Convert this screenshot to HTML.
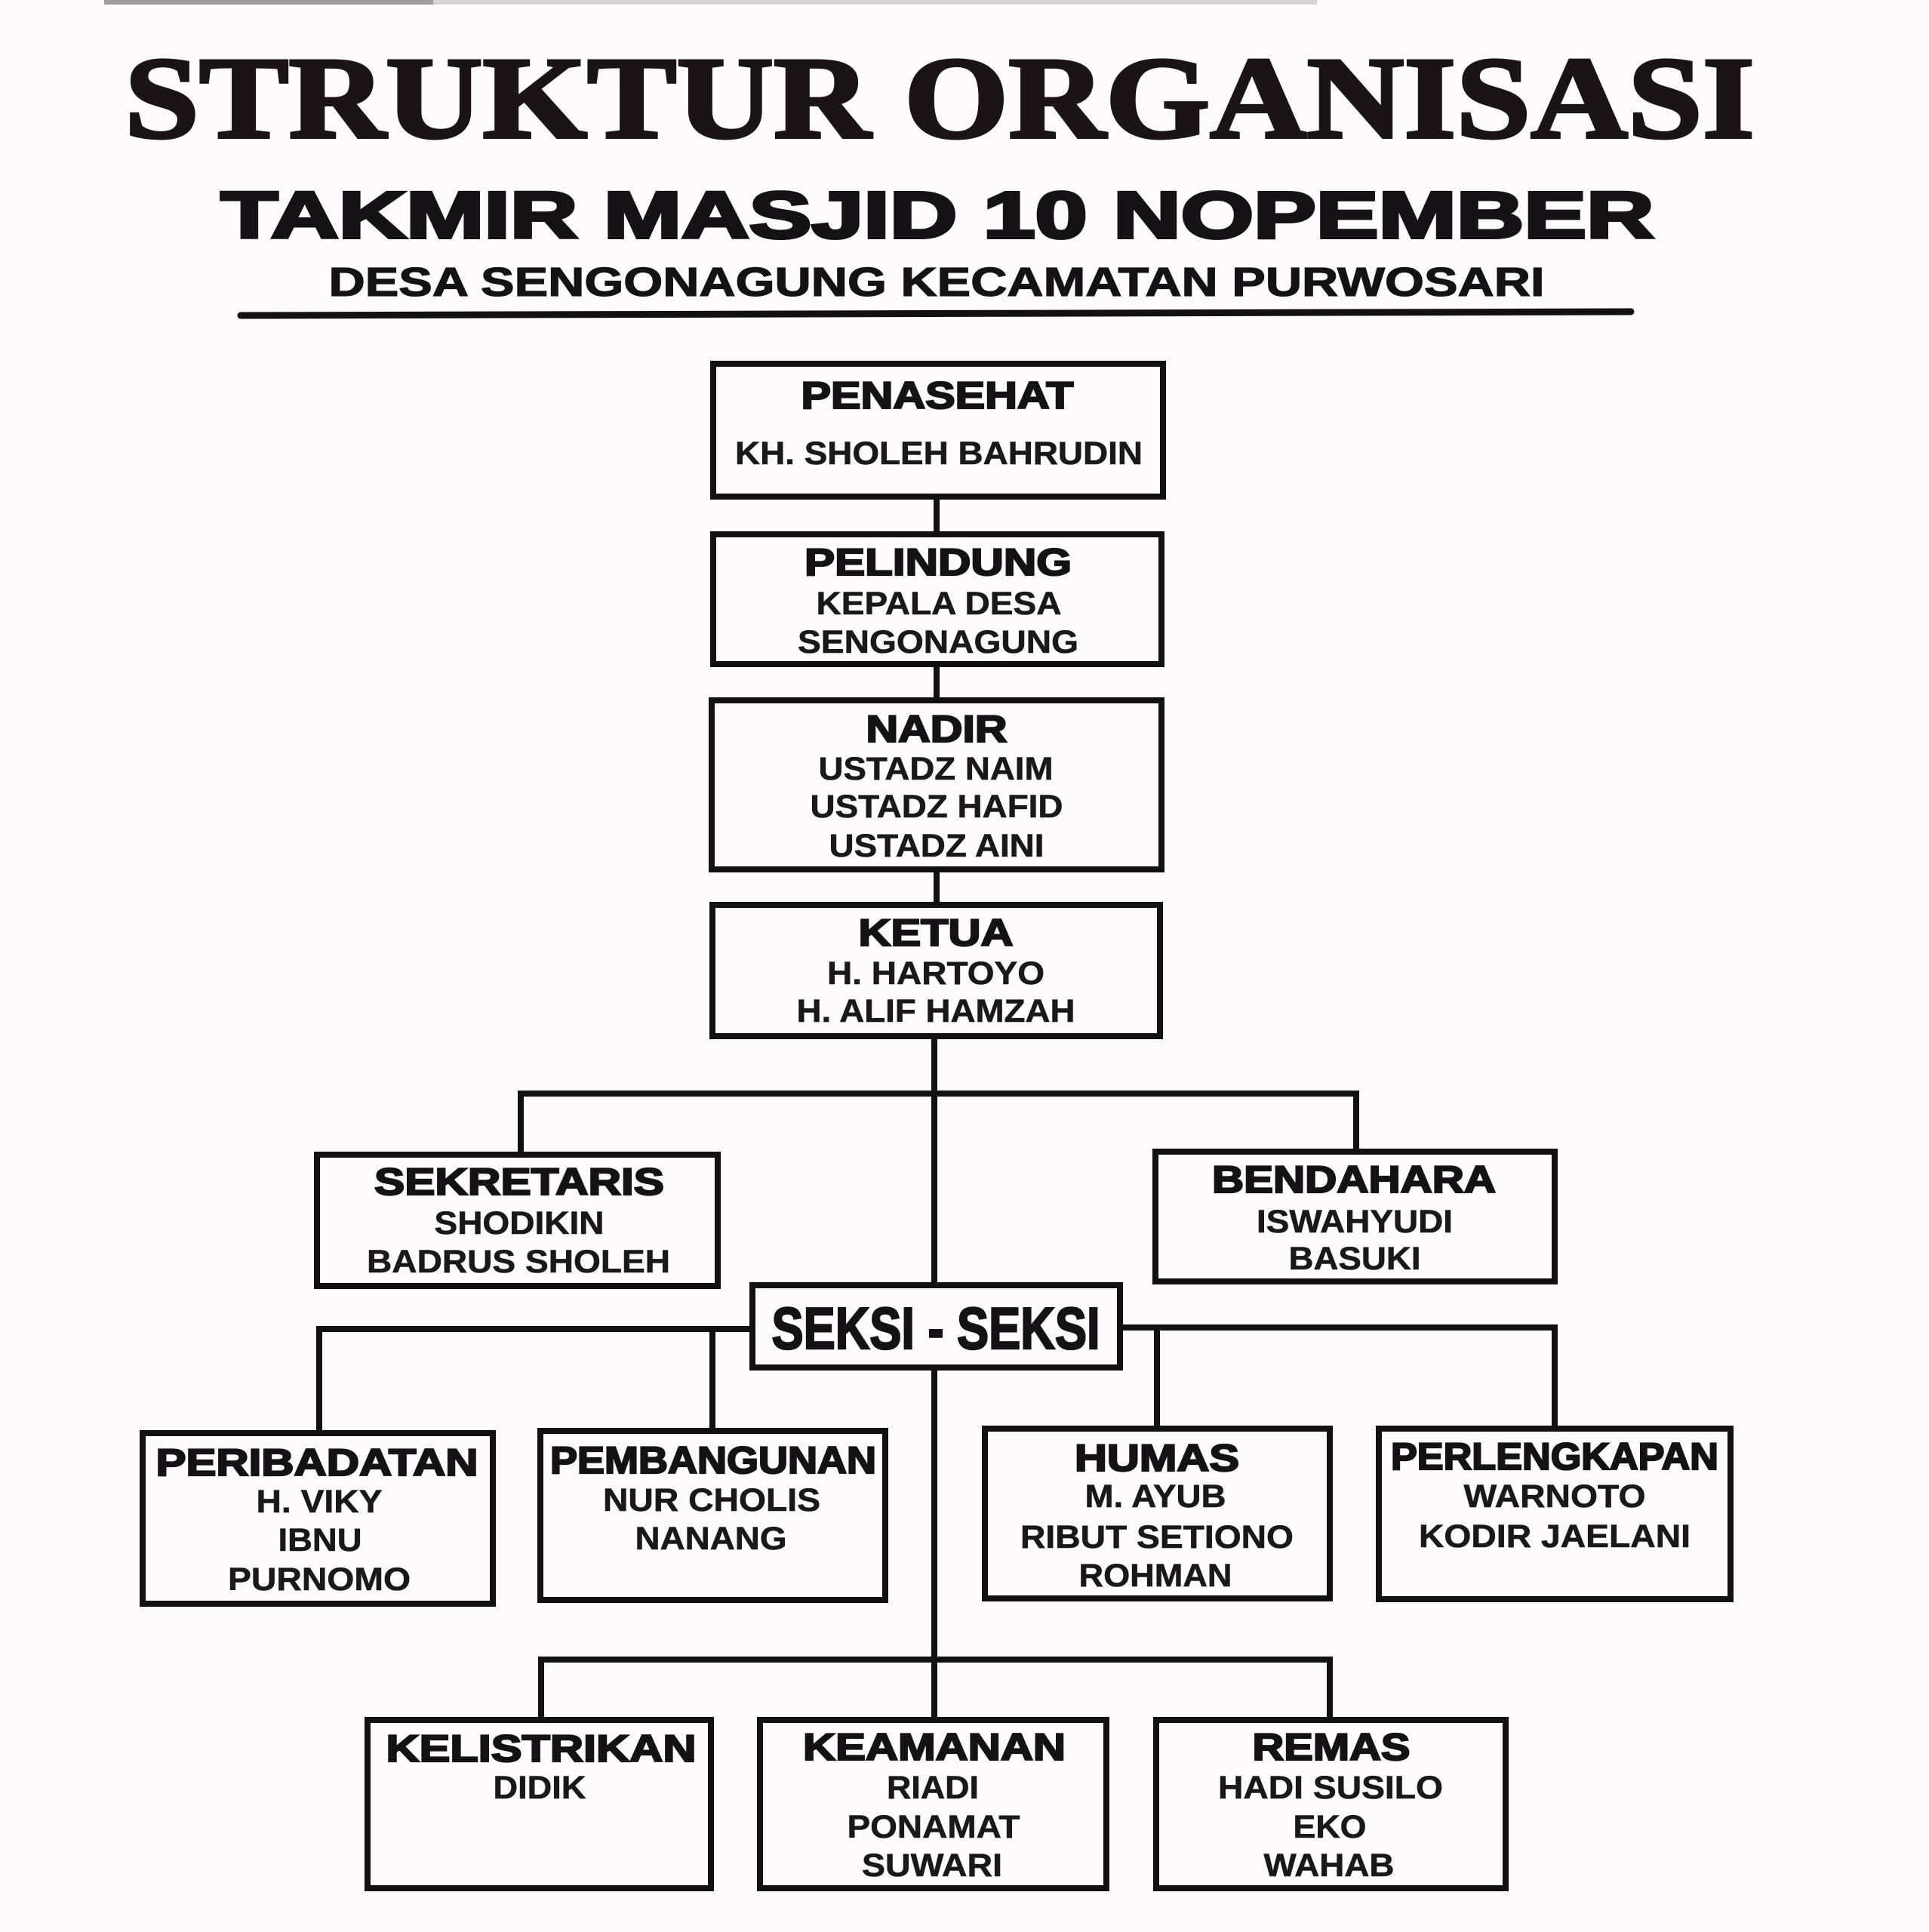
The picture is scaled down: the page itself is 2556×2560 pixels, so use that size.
<!DOCTYPE html>
<html>
<head>
<meta charset="utf-8">
<style>
  html, body { margin:0; padding:0; background:#fdfbfc; }
  body { width:2556px; height:2560px; overflow:hidden; }
  svg { display:block; }
  .t { font-family:"Liberation Sans", sans-serif; font-weight:bold; fill:#141214; stroke:#141214; stroke-width:2.2; text-anchor:middle; font-size:50px; }
  .n { font-family:"Liberation Sans", sans-serif; font-weight:bold; fill:#1a181a; stroke:#1a181a; stroke-width:0.6; text-anchor:middle; font-size:43px; }
  .box { fill:#fdfbfc; stroke:#121012; stroke-width:8; }
  .ln { stroke:#121012; stroke-width:8; fill:none; stroke-linecap:square; }
</style>
</head>
<body>
<svg width="2556" height="2560" viewBox="0 0 2556 2560" xmlns="http://www.w3.org/2000/svg">
  <rect x="0" y="0" width="2556" height="2560" fill="#fdfbfc"/>
  <!-- top scan strip -->
  <rect x="138" y="0" width="1607" height="6" fill="#d6d3d5"/>
  <rect x="138" y="0" width="436" height="6" fill="#a09d9f"/>

  <!-- Header -->
  <text x="1245" y="182" font-family="Liberation Serif, serif" font-weight="bold" font-size="155" fill="#1a1416" stroke="#1a1416" stroke-width="4" text-anchor="middle" textLength="2160" lengthAdjust="spacingAndGlyphs">STRUKTUR ORGANISASI</text>
  <text x="1242" y="315" font-family="Liberation Sans, sans-serif" font-weight="bold" font-size="87" fill="#141214" stroke="#141214" stroke-width="4" text-anchor="middle" textLength="1899" lengthAdjust="spacingAndGlyphs">TAKMIR MASJID 10 NOPEMBER</text>
  <text x="1241" y="392" font-family="Liberation Sans, sans-serif" font-weight="bold" font-size="54" fill="#141214" stroke="#141214" stroke-width="1.2" text-anchor="middle" textLength="1611" lengthAdjust="spacingAndGlyphs">DESA SENGONAGUNG KECAMATAN PURWOSARI</text>
  <path d="M319 418 L2161 413" stroke="#121012" stroke-width="9" stroke-linecap="round" fill="none"/>

  <!-- Connectors -->
  <line class="ln" x1="1241" y1="662" x2="1241" y2="1195"/>
  <line class="ln" x1="1238" y1="1377" x2="1238" y2="2275"/>
  <line class="ln" x1="690" y1="1449" x2="1797" y2="1449"/>
  <line class="ln" x1="690" y1="1449" x2="690" y2="1526"/>
  <line class="ln" x1="1797" y1="1449" x2="1797" y2="1522"/>

  <line class="ln" x1="423" y1="1761" x2="993" y2="1761"/>
  <line class="ln" x1="423" y1="1761" x2="423" y2="1895"/>
  <line class="ln" x1="944" y1="1761" x2="944" y2="1892"/>
  <line class="ln" x1="1488" y1="1759" x2="2060" y2="1759"/>
  <line class="ln" x1="1533" y1="1759" x2="1533" y2="1889"/>
  <line class="ln" x1="2060" y1="1759" x2="2060" y2="1889"/>

  <line class="ln" x1="717" y1="2199" x2="1762" y2="2199"/>
  <line class="ln" x1="717" y1="2199" x2="717" y2="2275"/>
  <line class="ln" x1="1762" y1="2199" x2="1762" y2="2275"/>

  <!-- Boxes (outer edges, border inset by 4) -->
  <rect class="box" x="945" y="482" width="596" height="176"/>
  <rect class="box" x="945" y="708" width="594" height="172"/>
  <rect class="box" x="943" y="928" width="596" height="224"/>
  <rect class="box" x="944" y="1199" width="593" height="174"/>
  <rect class="box" x="420" y="1530" width="531" height="174"/>
  <rect class="box" x="1531" y="1526" width="529" height="172"/>
  <rect class="box" x="997" y="1703" width="487" height="109"/>
  <rect class="box" x="189" y="1899" width="464" height="226"/>
  <rect class="box" x="716" y="1896" width="457" height="224"/>
  <rect class="box" x="1305" y="1893" width="457" height="225"/>
  <rect class="box" x="1827" y="1893" width="466" height="226"/>
  <rect class="box" x="487" y="2279" width="455" height="223"/>
  <rect class="box" x="1007" y="2279" width="459" height="223"/>
  <rect class="box" x="1532" y="2279" width="463" height="223"/>

  <!-- PENASEHAT -->
  <text class="t" x="1242" y="541" textLength="361" lengthAdjust="spacingAndGlyphs">PENASEHAT</text>
  <text class="n" x="1244" y="615" textLength="540" lengthAdjust="spacingAndGlyphs">KH. SHOLEH BAHRUDIN</text>

  <!-- PELINDUNG -->
  <text class="t" x="1243" y="762" textLength="354" lengthAdjust="spacingAndGlyphs">PELINDUNG</text>
  <text class="n" x="1244" y="814" textLength="325" lengthAdjust="spacingAndGlyphs">KEPALA DESA</text>
  <text class="n" x="1243" y="865" textLength="372" lengthAdjust="spacingAndGlyphs">SENGONAGUNG</text>

  <!-- NADIR -->
  <text class="t" x="1241" y="983" textLength="187" lengthAdjust="spacingAndGlyphs">NADIR</text>
  <text class="n" x="1240" y="1033" textLength="311" lengthAdjust="spacingAndGlyphs">USTADZ NAIM</text>
  <text class="n" x="1241" y="1083" textLength="335" lengthAdjust="spacingAndGlyphs">USTADZ HAFID</text>
  <text class="n" x="1241" y="1135" textLength="285" lengthAdjust="spacingAndGlyphs">USTADZ AINI</text>

  <!-- KETUA -->
  <text class="t" x="1240" y="1253" textLength="205" lengthAdjust="spacingAndGlyphs">KETUA</text>
  <text class="n" x="1240" y="1304" textLength="288" lengthAdjust="spacingAndGlyphs">H. HARTOYO</text>
  <text class="n" x="1240" y="1354" textLength="369" lengthAdjust="spacingAndGlyphs">H. ALIF HAMZAH</text>

  <!-- SEKRETARIS -->
  <text class="t" x="688" y="1583" textLength="384" lengthAdjust="spacingAndGlyphs">SEKRETARIS</text>
  <text class="n" x="688" y="1635" textLength="225" lengthAdjust="spacingAndGlyphs">SHODIKIN</text>
  <text class="n" x="687" y="1686" textLength="402" lengthAdjust="spacingAndGlyphs">BADRUS SHOLEH</text>

  <!-- BENDAHARA -->
  <text class="t" x="1794" y="1580" textLength="376" lengthAdjust="spacingAndGlyphs">BENDAHARA</text>
  <text class="n" x="1795" y="1633" textLength="260" lengthAdjust="spacingAndGlyphs">ISWAHYUDI</text>
  <text class="n" x="1795" y="1682" textLength="175" lengthAdjust="spacingAndGlyphs">BASUKI</text>

  <!-- SEKSI - SEKSI -->
  <text x="1240" y="1787" font-family="Liberation Sans, sans-serif" font-weight="bold" font-size="78" fill="#141214" stroke="#141214" stroke-width="2.5" text-anchor="middle" textLength="435" lengthAdjust="spacingAndGlyphs">SEKSI - SEKSI</text>

  <!-- PERIBADATAN -->
  <text class="t" x="420" y="1955" textLength="427" lengthAdjust="spacingAndGlyphs">PERIBADATAN</text>
  <text class="n" x="423" y="2004" textLength="167" lengthAdjust="spacingAndGlyphs">H. VIKY</text>
  <text class="n" x="424" y="2055" textLength="111" lengthAdjust="spacingAndGlyphs">IBNU</text>
  <text class="n" x="423" y="2107" textLength="242" lengthAdjust="spacingAndGlyphs">PURNOMO</text>

  <!-- PEMBANGUNAN -->
  <text class="t" x="945" y="1952" textLength="432" lengthAdjust="spacingAndGlyphs">PEMBANGUNAN</text>
  <text class="n" x="943" y="2002" textLength="288" lengthAdjust="spacingAndGlyphs">NUR CHOLIS</text>
  <text class="n" x="942" y="2053" textLength="201" lengthAdjust="spacingAndGlyphs">NANANG</text>

  <!-- HUMAS -->
  <text class="t" x="1533" y="1949" textLength="218" lengthAdjust="spacingAndGlyphs">HUMAS</text>
  <text class="n" x="1531" y="1997" textLength="187" lengthAdjust="spacingAndGlyphs">M. AYUB</text>
  <text class="n" x="1533" y="2051" textLength="362" lengthAdjust="spacingAndGlyphs">RIBUT SETIONO</text>
  <text class="n" x="1531" y="2102" textLength="203" lengthAdjust="spacingAndGlyphs">ROHMAN</text>

  <!-- PERLENGKAPAN -->
  <text class="t" x="2060" y="1947" textLength="434" lengthAdjust="spacingAndGlyphs">PERLENGKAPAN</text>
  <text class="n" x="2060" y="1997" textLength="241" lengthAdjust="spacingAndGlyphs">WARNOTO</text>
  <text class="n" x="2060" y="2050" textLength="360" lengthAdjust="spacingAndGlyphs">KODIR JAELANI</text>

  <!-- KELISTRIKAN -->
  <text class="t" x="717" y="2334" textLength="411" lengthAdjust="spacingAndGlyphs">KELISTRIKAN</text>
  <text class="n" x="715" y="2383" textLength="123" lengthAdjust="spacingAndGlyphs">DIDIK</text>

  <!-- KEAMANAN -->
  <text class="t" x="1238" y="2332" textLength="348" lengthAdjust="spacingAndGlyphs">KEAMANAN</text>
  <text class="n" x="1236" y="2383" textLength="122" lengthAdjust="spacingAndGlyphs">RIADI</text>
  <text class="n" x="1237" y="2435" textLength="229" lengthAdjust="spacingAndGlyphs">PONAMAT</text>
  <text class="n" x="1235" y="2486" textLength="186" lengthAdjust="spacingAndGlyphs">SUWARI</text>

  <!-- REMAS -->
  <text class="t" x="1764" y="2332" textLength="209" lengthAdjust="spacingAndGlyphs">REMAS</text>
  <text class="n" x="1763" y="2383" textLength="298" lengthAdjust="spacingAndGlyphs">HADI SUSILO</text>
  <text class="n" x="1762" y="2435" textLength="97" lengthAdjust="spacingAndGlyphs">EKO</text>
  <text class="n" x="1761" y="2486" textLength="173" lengthAdjust="spacingAndGlyphs">WAHAB</text>
</svg>
</body>
</html>
